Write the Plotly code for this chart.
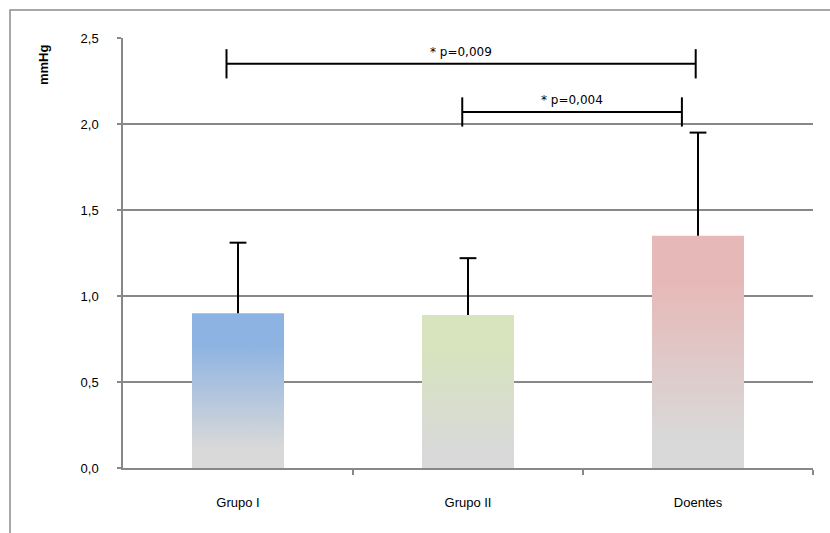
import plotly.graph_objects as go

# Mean values (mmHg) and standard deviations per group
groups = ["Grupo I", "Grupo II", "Doentes"]
means = [0.90, 0.89, 1.35]
sds = [0.41, 0.33, 0.60]
top_colors = ["#8DB3E2", "#D7E4BD", "#E6B9B8"]

# Significance brackets: left x, right x, height, label
bracket_left = [-0.05, 0.975]
bracket_right = [1.99, 1.93]
bracket_y = [2.35, 2.07]
bracket_labels = ["* p=0,009", "* p=0,004"]

y_ticks = [0.0, 0.5, 1.0, 1.5, 2.0, 2.5]

W, H = 830, 533
ML, MR, MT, MB = 123, 17, 38, 65
PW, PH = W - ML - MR, H - MT - MB

GRID = "#888888"
BAR_W = 0.40
FONT_NARROW = "Liberation Sans Narrow, Arial Narrow, Liberation Sans, sans-serif"
FONT_SANS = "Liberation Sans, Arial, sans-serif"
FONT_TXT = "DejaVu Sans, sans-serif"

fig = go.Figure()

# gradient-filled bars
for i, (v, c) in enumerate(zip(means, top_colors)):
    x0, x1 = i - BAR_W / 2, i + BAR_W / 2
    fig.add_trace(go.Scatter(
        x=[x0, x1, x1, x0, x0], y=[0, 0, v, v, 0],
        mode="lines", line=dict(width=0), fill="toself",
        fillgradient=dict(type="vertical", start=v, stop=0,
                          colorscale=[[0, c], [0.2, c], [0.88, "#D9D9D9"], [1, "#D9D9D9"]]),
        hoverinfo="skip", showlegend=False,
    ))

# upper standard-deviation whiskers with a cap on top only
for i, (v, s) in enumerate(zip(means, sds)):
    fig.add_trace(go.Scatter(x=[i, i], y=[v, v + s], mode="lines",
                             line=dict(color="black", width=2),
                             showlegend=False, hoverinfo="skip"))
fig.add_trace(go.Scatter(
    x=list(range(len(groups))), y=[v + s for v, s in zip(means, sds)], mode="markers",
    marker=dict(symbol="line-ew", size=12, line=dict(color="black", width=2)),
    showlegend=False, hoverinfo="skip",
))

# significance brackets
TICK_H = 0.085
for xl, xr, yb, lab in zip(bracket_left, bracket_right, bracket_y, bracket_labels):
    fig.add_trace(go.Scatter(x=[xl, xr], y=[yb, yb], mode="lines",
                             line=dict(color="black", width=2), showlegend=False, hoverinfo="skip"))
    for xe in (xl, xr):
        fig.add_trace(go.Scatter(x=[xe, xe], y=[yb - TICK_H, yb + TICK_H], mode="lines",
                                 line=dict(color="black", width=2), showlegend=False, hoverinfo="skip"))
    fig.add_annotation(x=(xl + xr) / 2, y=yb + 0.015, text=lab, showarrow=False,
                       yanchor="bottom", font=dict(family=FONT_TXT, size=12, color="black"))

def px_x(p):
    return (p - ML) / PW

def px_y(p):
    return (H - MB - p) / PH

# outer chart frame
fig.add_shape(type="rect", xref="paper", yref="paper",
              x0=px_x(10), x1=px_x(900), y0=px_y(10), y1=px_y(600),
              line=dict(color="#8C8C8C", width=1.5), fillcolor="rgba(0,0,0,0)", layer="below")

# axis title
fig.add_annotation(xref="paper", yref="paper", x=px_x(44), y=px_y(65), text="<b>mmHg</b>",
                   xanchor="center", yanchor="middle",
                   textangle=-90, showarrow=False, font=dict(family=FONT_SANS, size=13, color="black"))

fig.update_layout(
    width=W, height=H,
    margin=dict(l=ML, r=MR, t=MT, b=MB),
    paper_bgcolor="white", plot_bgcolor="white",
    separators=",.",
    showlegend=False,
    xaxis=dict(range=[-0.5, 2.5], tickvals=list(range(len(groups))), ticktext=groups,
               ticks="", showgrid=False, zeroline=False,
               showline=True, linecolor=GRID, linewidth=1.5,
               ticklabelstandoff=22,
               minor=dict(tickvals=[0.5, 1.5, 2.5], ticks="outside", ticklen=5,
                          tickcolor=GRID, tickwidth=1.5, showgrid=False),
               tickfont=dict(family=FONT_NARROW, size=13, color="black")),
    yaxis=dict(range=[0, 2.5], tickvals=y_ticks, tickformat=".1f",
               ticks="outside", ticklen=4, tickcolor=GRID, tickwidth=1.5,
               showgrid=True, gridcolor=GRID, gridwidth=1.5,
               zeroline=False, showline=True, linecolor=GRID, linewidth=1.5,
               ticklabelstandoff=16,
               tickfont=dict(family=FONT_SANS, size=13, color="black")),
)

fig.write_html("out.html")
